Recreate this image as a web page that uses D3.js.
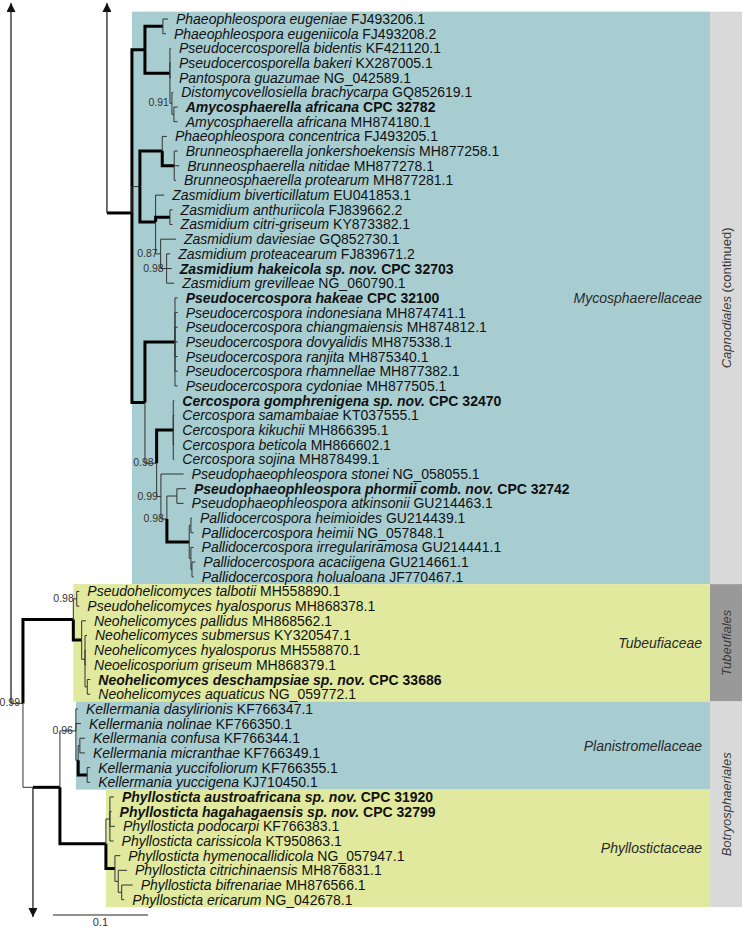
<!DOCTYPE html>
<html><head><meta charset="utf-8">
<script src="https://cdn.jsdelivr.net/npm/d3@7"></script>
<style>body{margin:0;background:#fff} svg{display:block} text{font-family:"Liberation Sans",Arial,sans-serif}</style>
</head><body><svg id="c" width="742" height="927"></svg>
<script>
// ---------- DATA ----------
const taxa = [
"Phaeophleospora eugeniae","Phaeophleospora eugeniicola","Pseudocercosporella bidentis","Pseudocercosporella bakeri",
"Pantospora guazumae","Distomycovellosiella brachycarpa","Amycosphaerella africana","Amycosphaerella africana",
"Phaeophleospora concentrica","Brunneosphaerella jonkershoekensis","Brunneosphaerella nitidae","Brunneosphaerella protearum",
"Zasmidium biverticillatum","Zasmidium anthuriicola","Zasmidium citri-griseum","Zasmidium daviesiae",
"Zasmidium proteacearum","Zasmidium hakeicola sp. nov.","Zasmidium grevilleae","Pseudocercospora hakeae",
"Pseudocercospora indonesiana","Pseudocercospora chiangmaiensis","Pseudocercospora dovyalidis","Pseudocercospora ranjita",
"Pseudocercospora rhamnellae","Pseudocercospora cydoniae","Cercospora gomphrenigena sp. nov.","Cercospora samambaiae",
"Cercospora kikuchii","Cercospora beticola","Cercospora sojina","Pseudophaeophleospora stonei",
"Pseudophaeophleospora phormii comb. nov.","Pseudophaeophleospora atkinsonii","Pallidocercospora heimioides","Pallidocercospora heimii",
"Pallidocercospora irregulariramosa","Pallidocercospora acaciigena","Pallidocercospora holualoana","Pseudohelicomyces talbotii",
"Pseudohelicomyces hyalosporus","Neohelicomyces pallidus","Neohelicomyces submersus","Neohelicomyces hyalosporus",
"Neoelicosporium griseum","Neohelicomyces deschampsiae sp. nov.","Neohelicomyces aquaticus","Kellermania dasylirionis",
"Kellermania nolinae","Kellermania confusa","Kellermania micranthae","Kellermania yuccifoliorum",
"Kellermania yuccigena","Phyllosticta austroafricana sp. nov.","Phyllosticta hagahagaensis sp. nov.","Phyllosticta podocarpi",
"Phyllosticta carissicola","Phyllosticta hymenocallidicola","Phyllosticta citrichinaensis","Phyllosticta bifrenariae",
"Phyllosticta ericarum"];
const accessions = [
"FJ493206.1","FJ493208.2","KF421120.1","KX287005.1","NG_042589.1","GQ852619.1","CPC 32782","MH874180.1",
"FJ493205.1","MH877258.1","MH877278.1","MH877281.1","EU041853.1","FJ839662.2","KY873382.1","GQ852730.1",
"FJ839671.2","CPC 32703","NG_060790.1","CPC 32100","MH874741.1","MH874812.1","MH875338.1","MH875340.1",
"MH877382.1","MH877505.1","CPC 32470","KT037555.1","MH866395.1","MH866602.1","MH878499.1","NG_058055.1",
"CPC 32742","GU214463.1","GU214439.1","NG_057848.1","GU214441.1","GU214661.1","JF770467.1","MH558890.1",
"MH868378.1","MH868562.1","KY320547.1","MH558870.1","MH868379.1","CPC 33686","NG_059772.1","KF766347.1",
"KF766350.1","KF766344.1","KF766349.1","KF766355.1","KJ710450.1","CPC 31920","CPC 32799","KF766383.1",
"KT950863.1","NG_057947.1","MH876831.1","MH876566.1","NG_042678.1"];
const boldRows = [7,18,20,27,33,46,54,55];

// Newick topologies (name|posterior : branch length), L# = row number, UP/DOWN = off-page continuation
const upperTree = "((((L1:0.0053,L2:0.0032)|1:0.0189,(L3:0.0011,L4:0.0011,L5:0.0011,(L6:0.0014,(L7:0.0039,L8:0.0039):0.0021)|0.91:0.0021)|1:0.0263)|1:0.0137,((L9:0.0049,(L10:0.0036,L11:0.0053,L12:0.0018)|1:0.0126)|1:0.0235,(L13:0.0091,(L14:0.0028,L15:0.0028)|1:0.0151,(L16:0.0161,(L17:0.0038,L18:0.0053,L19:0.0080)|0.98:0.0063)|0.87:0.0053)|1:0.0165):0.0084,((L20:0.0028,L21:0.0028,L22:0.0028,L23:0.0028,L24:0.0028,L25:0.0028,L26:0.0028)|1:0.0316,((L27:0.0011,L28:0.0011,L29:0.0011,L30:0.0011,L31:0.0011)|1:0.0175,(L32:0.0239,((L33:0.0095,L34:0.0071):0.0105,((L35:0.0011,L36:0.0028):0.0018,(L37:0.0028,(L38:0.0035,L39:0.0018):0.0011):0.0018)|1:0.0235)|0.98:0.0063)|0.99:0.0045)|0.98:0.0123)|1:0.0137)Myco|1:0.0263,UP)";
const lowerTree = "((((L40:0.0027,L41:0.0027)|0.98:0.0036,(L42:0.0045,(L43:0.0021,L44:0.0011,L45:0.0011,(L46:0.0032,L47:0.0032):0.0024):0.0035)|1:0.0088)Tub|1:0.0530,(((L48:0.0021,L49:0.0053,((L50:0.0053,L51:0.0053):0.0018,(L52:0.0032,L53:0.0032)|1:0.0095):0.0024)Plan|0.96:0.0168,((L54:0.0042,L55:0.0018,L56:0.0053,L57:0.0039):0.0042,(L58:0.0056,(L59:0.0092,(L60:0.0116,L61:0.0027):0.0036):0.0035)|1:0.0095)Phyl|1:0.0484)|1:0.0284,DOWN):0.0105)|0.99:0.0126,UP)";
const upperRootDepth = 0.101;
const lowerRootDepth = 0;

const families = ["Mycosphaerellaceae","Tubeufiaceae","Planistromellaceae","Phyllostictaceae"];
const familyNodes = ["Myco","Tub","Plan","Phyl"];
const familyRows = [[1,39],[40,47],[48,53],[54,61]];
const familyFill = ["#a8cdd1","#e0e99e","#a8cdd1","#e0e99e"];
const orders = ["Capnodiales","Tubeufiales","Botryosphaeriales"];
const orderSuffix = [" (continued)","",""];
const orderRows = [[1,39],[40,47],[48,61]];
const orderFill = ["#d9d9d9","#999999","#d9d9d9"];
const scaleBarValue = 0.1;

// ---------- LAYOUT ----------
const W = 742, H = 927;
const svg = d3.select("#c");
const x = d3.scaleLinear().domain([0, 0.1]).range([11, 106]);
const y = d3.scaleLinear().domain([1, 61]).range([19, 899.7]);
const step = y(2) - y(1);
const topEdge = 3, bottomEdge = 917;
const boxRight = 710;

function parseNewick(s){
  let i = 0;
  function node(){
    const n = {children: []};
    if (s[i] === '(') {
      i++; n.children.push(node());
      while (s[i] === ',') { i++; n.children.push(node()); }
      i++;
    }
    let lab = '';
    while (i < s.length && !':,)'.includes(s[i])) lab += s[i++];
    n.length = 0;
    if (s[i] === ':') { i++; let v = ''; while (i < s.length && !',)'.includes(s[i])) v += s[i++]; n.length = +v; }
    const parts = lab.split('|'); n.name = parts[0]; n.support = parts[1];
    return n;
  }
  return node();
}

function layout(str, rootDepth){
  const root = d3.hierarchy(parseNewick(str), d => d.children.length ? d.children : null);
  root.each(d => { d.bl = d.parent ? d.parent.bl + d.data.length : rootDepth; d.px = x(d.bl); });
  root.eachAfter(d => {
    const nm = d.data.name;
    if (nm === 'UP') { d.stub = 'up'; d.py = topEdge; }
    else if (nm === 'DOWN') { d.stub = 'down'; d.py = bottomEdge; }
    else if (!d.children) { d.row = +nm.slice(1); d.py = y(d.row); }
    else { const c = d.children.filter(k => !k.stub); d.py = d3.mean(c, k => k.py); }
  });
  return root;
}
const upper = layout(upperTree, upperRootDepth);
const lower = layout(lowerTree, lowerRootDepth);
const allNodes = upper.descendants().concat(lower.descendants());
const byName = {}; allNodes.forEach(d => { if (d.data.name) byName[d.data.name] = d; });

// boxes
const gBox = svg.append("g");
families.forEach((f, i) => {
  const n = byName[familyNodes[i]];
  const y0 = y(familyRows[i][0]) - step/2, y1 = y(familyRows[i][1]) + step/2;
  gBox.append("rect").attr("x", n.px).attr("y", y0).attr("width", boxRight - n.px).attr("height", y1 - y0).attr("fill", familyFill[i]);
  gBox.append("text").attr("x", boxRight - 8).attr("y", (y0 + y1)/2 + 5).attr("text-anchor","end")
    .attr("font-size", 14).attr("font-style","italic").attr("fill","#2a2a2a").text(f);
});
orders.forEach((o, i) => {
  const y0 = y(orderRows[i][0]) - step/2, y1 = y(orderRows[i][1]) + step/2;
  gBox.append("rect").attr("x", boxRight).attr("y", y0).attr("width", W - boxRight).attr("height", y1 - y0).attr("fill", orderFill[i]);
  const t = gBox.append("text").attr("transform", `translate(${(boxRight + W)/2 + 4.5},${(y0 + y1)/2}) rotate(-90)`)
    .attr("text-anchor","middle").attr("font-size", 13).attr("fill","#3a3a3a");
  t.append("tspan").attr("font-style","italic").text(o);
  if (orderSuffix[i]) t.append("tspan").text(orderSuffix[i]);
});

// arrow marker
svg.append("defs").append("marker").attr("id","arr").attr("viewBox","0 0 10 10").attr("refX",10).attr("refY",5)
  .attr("markerWidth",9).attr("markerHeight",9).attr("markerUnits","userSpaceOnUse").attr("orient","auto")
  .append("path").attr("d","M0,0L10,5L0,10Z").attr("fill","#111");

// branches
const gBr = svg.append("g").attr("fill","none");
allNodes.filter(d => d.parent).forEach(d => {
  const p = d.parent;
  if (d.stub) {
    gBr.append("line").attr("x1", p.px).attr("x2", p.px).attr("y1", p.py).attr("y2", d.py)
      .attr("stroke","#222").attr("stroke-width",1.3).attr("marker-end","url(#arr)");
    return;
  }
  const thick = d.data.support === "1";
  gBr.append("path").attr("d", `M${p.px},${p.py}V${d.py}H${d.px}`)
    .attr("stroke", thick ? "#000" : "#333").attr("stroke-width", thick ? 3 : 1);
});

// support labels
const gSup = svg.append("g");
allNodes.filter(d => d.data.support && d.data.support !== "1").forEach(d => {
  gSup.append("text").attr("x", d.px - 3).attr("y", d.py + 3).attr("text-anchor","end")
    .attr("font-size", 10.5).attr("fill","#333").text(d.data.support);
});

// leaf labels
const gLab = svg.append("g");
allNodes.filter(d => d.row).forEach(d => {
  const i = d.row - 1;
  const t = gLab.append("text").attr("x", d.px + 8).attr("y", d.py + 5).attr("font-size", 14).attr("fill","#111")
    .attr("font-weight", boldRows.includes(d.row) ? "bold" : null);
  t.append("tspan").attr("font-style","italic").text(taxa[i]);
  t.append("tspan").text(" " + accessions[i]);
});

// scale bar
const sbX = 53, sbY = 915;
const sbLen = x(scaleBarValue) - x(0);
svg.append("line").attr("x1", sbX).attr("x2", sbX + sbLen).attr("y1", sbY).attr("y2", sbY).attr("stroke","#222").attr("stroke-width",1.2);
svg.append("text").attr("x", sbX + sbLen/2).attr("y", sbY + 11).attr("text-anchor","middle").attr("font-size",11).attr("fill","#333").text(scaleBarValue);
</script></body></html>
